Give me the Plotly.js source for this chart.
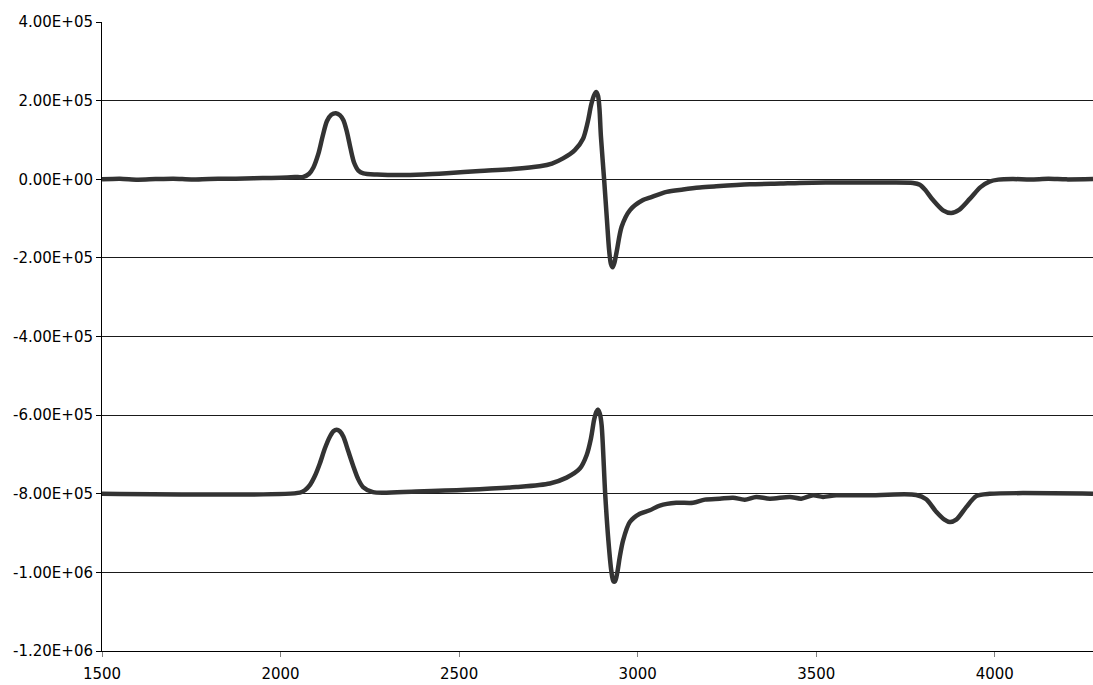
<!DOCTYPE html>
<html>
<head>
<meta charset="utf-8">
<script src="https://cdn.plot.ly/plotly-3.0.1.min.js"></script>
<style>html,body{margin:0;padding:0;background:#fff;}#chart{width:1093px;height:685px;}</style>
</head>
<body>
<div id="chart"></div>
<script>
// Upper spectrum
const xTop = [1500,1550,1600,1650,1700,1750,1800,1850,1900,1950,2000,2040,2064,2080,2092,2106,2118,2130,2142,2155,2166,2176,2186,2196,2206,2218,2232,2270,2334,2400,2465,2558,2651,2726,2760,2791,2824,2847,2860,2870,2878,2884,2889,2893,2897,2906,2914,2920,2925,2930,2935,2941,2955,2978,3015,3034,3081,3127,3174,3220,3314,3400,3454,3594,3678,3771,3790,3805,3827,3855,3878,3900,3930,3960,3985,4010,4050,4100,4150,4200,4275];
const yTop = [0,1500,-1000,500,1500,-500,800,1200,2000,3000,4000,5500,6000,14000,30000,65000,110000,148000,164000,168000,163000,150000,120000,78000,42000,22000,15000,12000,10500,12000,15300,21000,26000,33000,40000,53000,74000,103000,145000,190000,214000,222000,212000,180000,110000,0,-104000,-180000,-215000,-224000,-212000,-185000,-121000,-79000,-53000,-47000,-32000,-26000,-21000,-18000,-13000,-11000,-9500,-8000,-8500,-9500,-14000,-27000,-53000,-79000,-86000,-78000,-50000,-20000,-6000,-1000,500,-500,1000,-300,500];

// Lower spectrum
const xBot = [1500,2054,2068,2082,2096,2110,2124,2138,2148,2157,2166,2176,2189,2203,2217,2231,2259,2380,2520,2660,2754,2801,2838,2857,2869,2878,2884,2889,2894,2899,2909,2918,2926,2932,2937,2943,2950,2959,2978,3006,3034,3062,3108,3155,3188,3230,3267,3300,3332,3370,3426,3458,3491,3519,3556,3640,3780,3808,3836,3859,3874,3892,3920,3948,3986,4275];
const yBot = [-800000,-797000,-791000,-778000,-755000,-723000,-685000,-655000,-641000,-637000,-641000,-655000,-690000,-728000,-762000,-783000,-796000,-794000,-790000,-783000,-774000,-759000,-736000,-702000,-660000,-612000,-592000,-586000,-596000,-625000,-800000,-919000,-995000,-1023000,-1022000,-1000000,-960000,-919000,-872000,-851000,-842000,-830000,-823000,-823000,-815000,-812500,-810000,-815000,-808000,-812500,-808000,-812500,-804000,-808000,-804000,-804000,-803000,-814000,-846000,-866000,-872000,-866000,-834000,-806000,-800000,-800000];

// Axis ticks
const xTickVals = [1500,2000,2500,3000,3500,4000];
const xTickText = ["1500","2000","2500","3000","3500","4000"];
const yTickVals = [400000,200000,0,-200000,-400000,-600000,-800000,-1000000,-1200000];
const yTickText = ["4.00E+05","2.00E+05","0.00E+00","-2.00E+05","-4.00E+05","-6.00E+05","-8.00E+05","-1.00E+06","-1.20E+06"];

const lineStyle = {color:'#333333', width:4.5, shape:'spline', smoothing:0.8};
const traces = [
  {x:xTop, y:yTop, type:'scatter', mode:'lines', line:lineStyle, hoverinfo:'skip'},
  {x:xBot, y:yBot, type:'scatter', mode:'lines', line:lineStyle, hoverinfo:'skip'}
];

const tf = {family:'DejaVu Sans, Arial, sans-serif', size:15, color:'#000'};
const layout = {
  width:1093, height:685,
  margin:{l:102, r:0, t:22, b:34},
  paper_bgcolor:'#fff', plot_bgcolor:'#fff',
  showlegend:false,
  font:tf,
  xaxis:{
    range:[1500,4275], tickmode:'array', tickvals:xTickVals, ticktext:xTickText,
    showgrid:false, zeroline:false, showline:true, linecolor:'#000', linewidth:1,
    ticks:'outside', ticklen:5, tickcolor:'#808080', tickwidth:1,
    ticklabelstandoff:4, tickfont:tf
  },
  yaxis:{
    range:[-1200000,400000], tickmode:'array', tickvals:yTickVals, ticktext:yTickText,
    showgrid:true, gridcolor:'#1a1a1a', gridwidth:1, zeroline:false,
    showline:true, linecolor:'#000', linewidth:1,
    ticks:'outside', ticklen:5, tickcolor:'#000', tickwidth:1,
    tickfont:tf
  }
};

Plotly.newPlot('chart', traces, layout, {displayModeBar:false, staticPlot:true});
</script>
</body>
</html>
